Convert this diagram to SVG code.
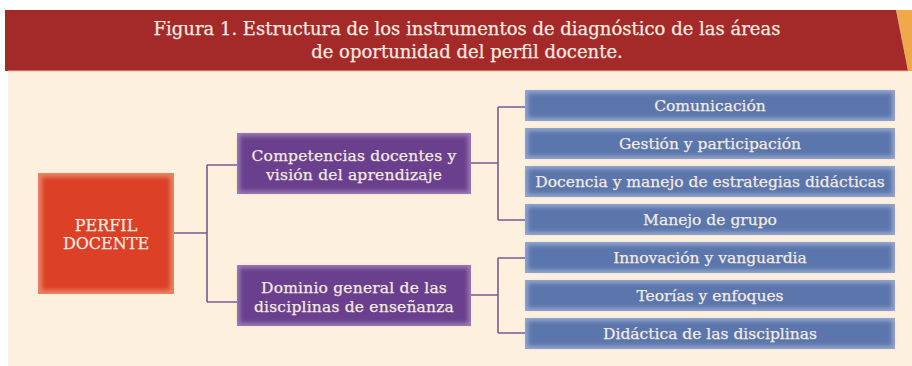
<svg xmlns="http://www.w3.org/2000/svg" width="912" height="366" viewBox="0 0 912 366">
<defs>
<filter id="soft" x="-10%" y="-30%" width="120%" height="160%"><feGaussianBlur stdDeviation="2.2"/></filter>
<style>
.t{font-family:"DejaVu Serif","Liberation Serif",serif;fill:#F4EBE0;stroke:#F4EBE0;stroke-width:0.25;text-anchor:middle}
.title{font-size:18px}
.blue{font-size:15.5px}
.pur{font-size:15.5px;letter-spacing:0.2px}
.red{font-size:16px}
.con{fill:none;stroke:#7A5A93;stroke-width:1.6}
</style>
</defs>
<rect x="0" y="0" width="912" height="366" fill="#FFFFFF"/>
<rect x="8" y="70" width="904" height="296" fill="#FDF0DF"/>
<polygon points="896,10 912,10 912,71 908,71" fill="#EFA94B"/>
<polygon points="5,10 896,10 908,71 5,71" fill="#A42A2A"/>
<line x1="8" y1="71" x2="908" y2="71" stroke="#E9B7A0" stroke-width="1"/>
<text class="t title" x="467" y="35">Figura 1. Estructura de los instrumentos de diagnóstico de las áreas</text>
<text class="t title" x="467" y="58">de oportunidad del perfil docente.</text>

<g id="connectors">
<path class="con" d="M174,233 H207 M207,165 V302 M207,165 H238 M207,302 H238"/>
<path class="con" d="M471,163 H498 M498,107 V220 M498,107 H525 M498,220 H525"/>
<path class="con" d="M471,295 H498 M498,258 V333 M498,258 H525 M498,333 H525"/>
</g>

<g id="perfil">
<rect x="38" y="173" width="136" height="121" fill="#E98363"/>
<rect x="42" y="177" width="128" height="113" fill="#DC3F28" filter="url(#soft)"/>
<text class="t red" x="106" y="231">PERFIL</text>
<text class="t red" x="106" y="249">DOCENTE</text>
</g>

<g id="competencias">
<rect x="237" y="133" width="234" height="61" fill="#9A7DB3"/>
<rect x="240" y="136" width="228" height="55" fill="#6A3F8E" filter="url(#soft)"/>
<text class="t pur" x="354" y="161">Competencias docentes y</text>
<text class="t pur" x="354" y="180">visión del aprendizaje</text>
</g>

<g id="dominio">
<rect x="237" y="265" width="234" height="61" fill="#9A7DB3"/>
<rect x="240" y="268" width="228" height="55" fill="#6A3F8E" filter="url(#soft)"/>
<text class="t pur" x="354" y="293">Dominio general de las</text>
<text class="t pur" x="354" y="312">disciplinas de enseñanza</text>
</g>

<g id="comunicacion">
<rect x="525" y="90" width="370" height="31" fill="#95A6CC"/>
<rect x="528" y="93" width="364" height="25" fill="#5A76AC" filter="url(#soft)"/>
<text class="t blue" x="710" y="111">Comunicación</text>
</g>
<g id="gestion">
<rect x="525" y="128" width="370" height="31" fill="#95A6CC"/>
<rect x="528" y="131" width="364" height="25" fill="#5A76AC" filter="url(#soft)"/>
<text class="t blue" x="710" y="149">Gestión y participación</text>
</g>
<g id="docencia">
<rect x="525" y="166" width="370" height="31" fill="#95A6CC"/>
<rect x="528" y="169" width="364" height="25" fill="#5A76AC" filter="url(#soft)"/>
<text class="t blue" x="710" y="187">Docencia y manejo de estrategias didácticas</text>
</g>
<g id="manejo">
<rect x="525" y="204" width="370" height="31" fill="#95A6CC"/>
<rect x="528" y="207" width="364" height="25" fill="#5A76AC" filter="url(#soft)"/>
<text class="t blue" x="710" y="225">Manejo de grupo</text>
</g>
<g id="innovacion">
<rect x="525" y="242" width="370" height="31" fill="#95A6CC"/>
<rect x="528" y="245" width="364" height="25" fill="#5A76AC" filter="url(#soft)"/>
<text class="t blue" x="710" y="263">Innovación y vanguardia</text>
</g>
<g id="teorias">
<rect x="525" y="280" width="370" height="31" fill="#95A6CC"/>
<rect x="528" y="283" width="364" height="25" fill="#5A76AC" filter="url(#soft)"/>
<text class="t blue" x="710" y="301">Teorías y enfoques</text>
</g>
<g id="didactica">
<rect x="525" y="318" width="370" height="31" fill="#95A6CC"/>
<rect x="528" y="321" width="364" height="25" fill="#5A76AC" filter="url(#soft)"/>
<text class="t blue" x="710" y="339">Didáctica de las disciplinas</text>
</g>
</svg>
